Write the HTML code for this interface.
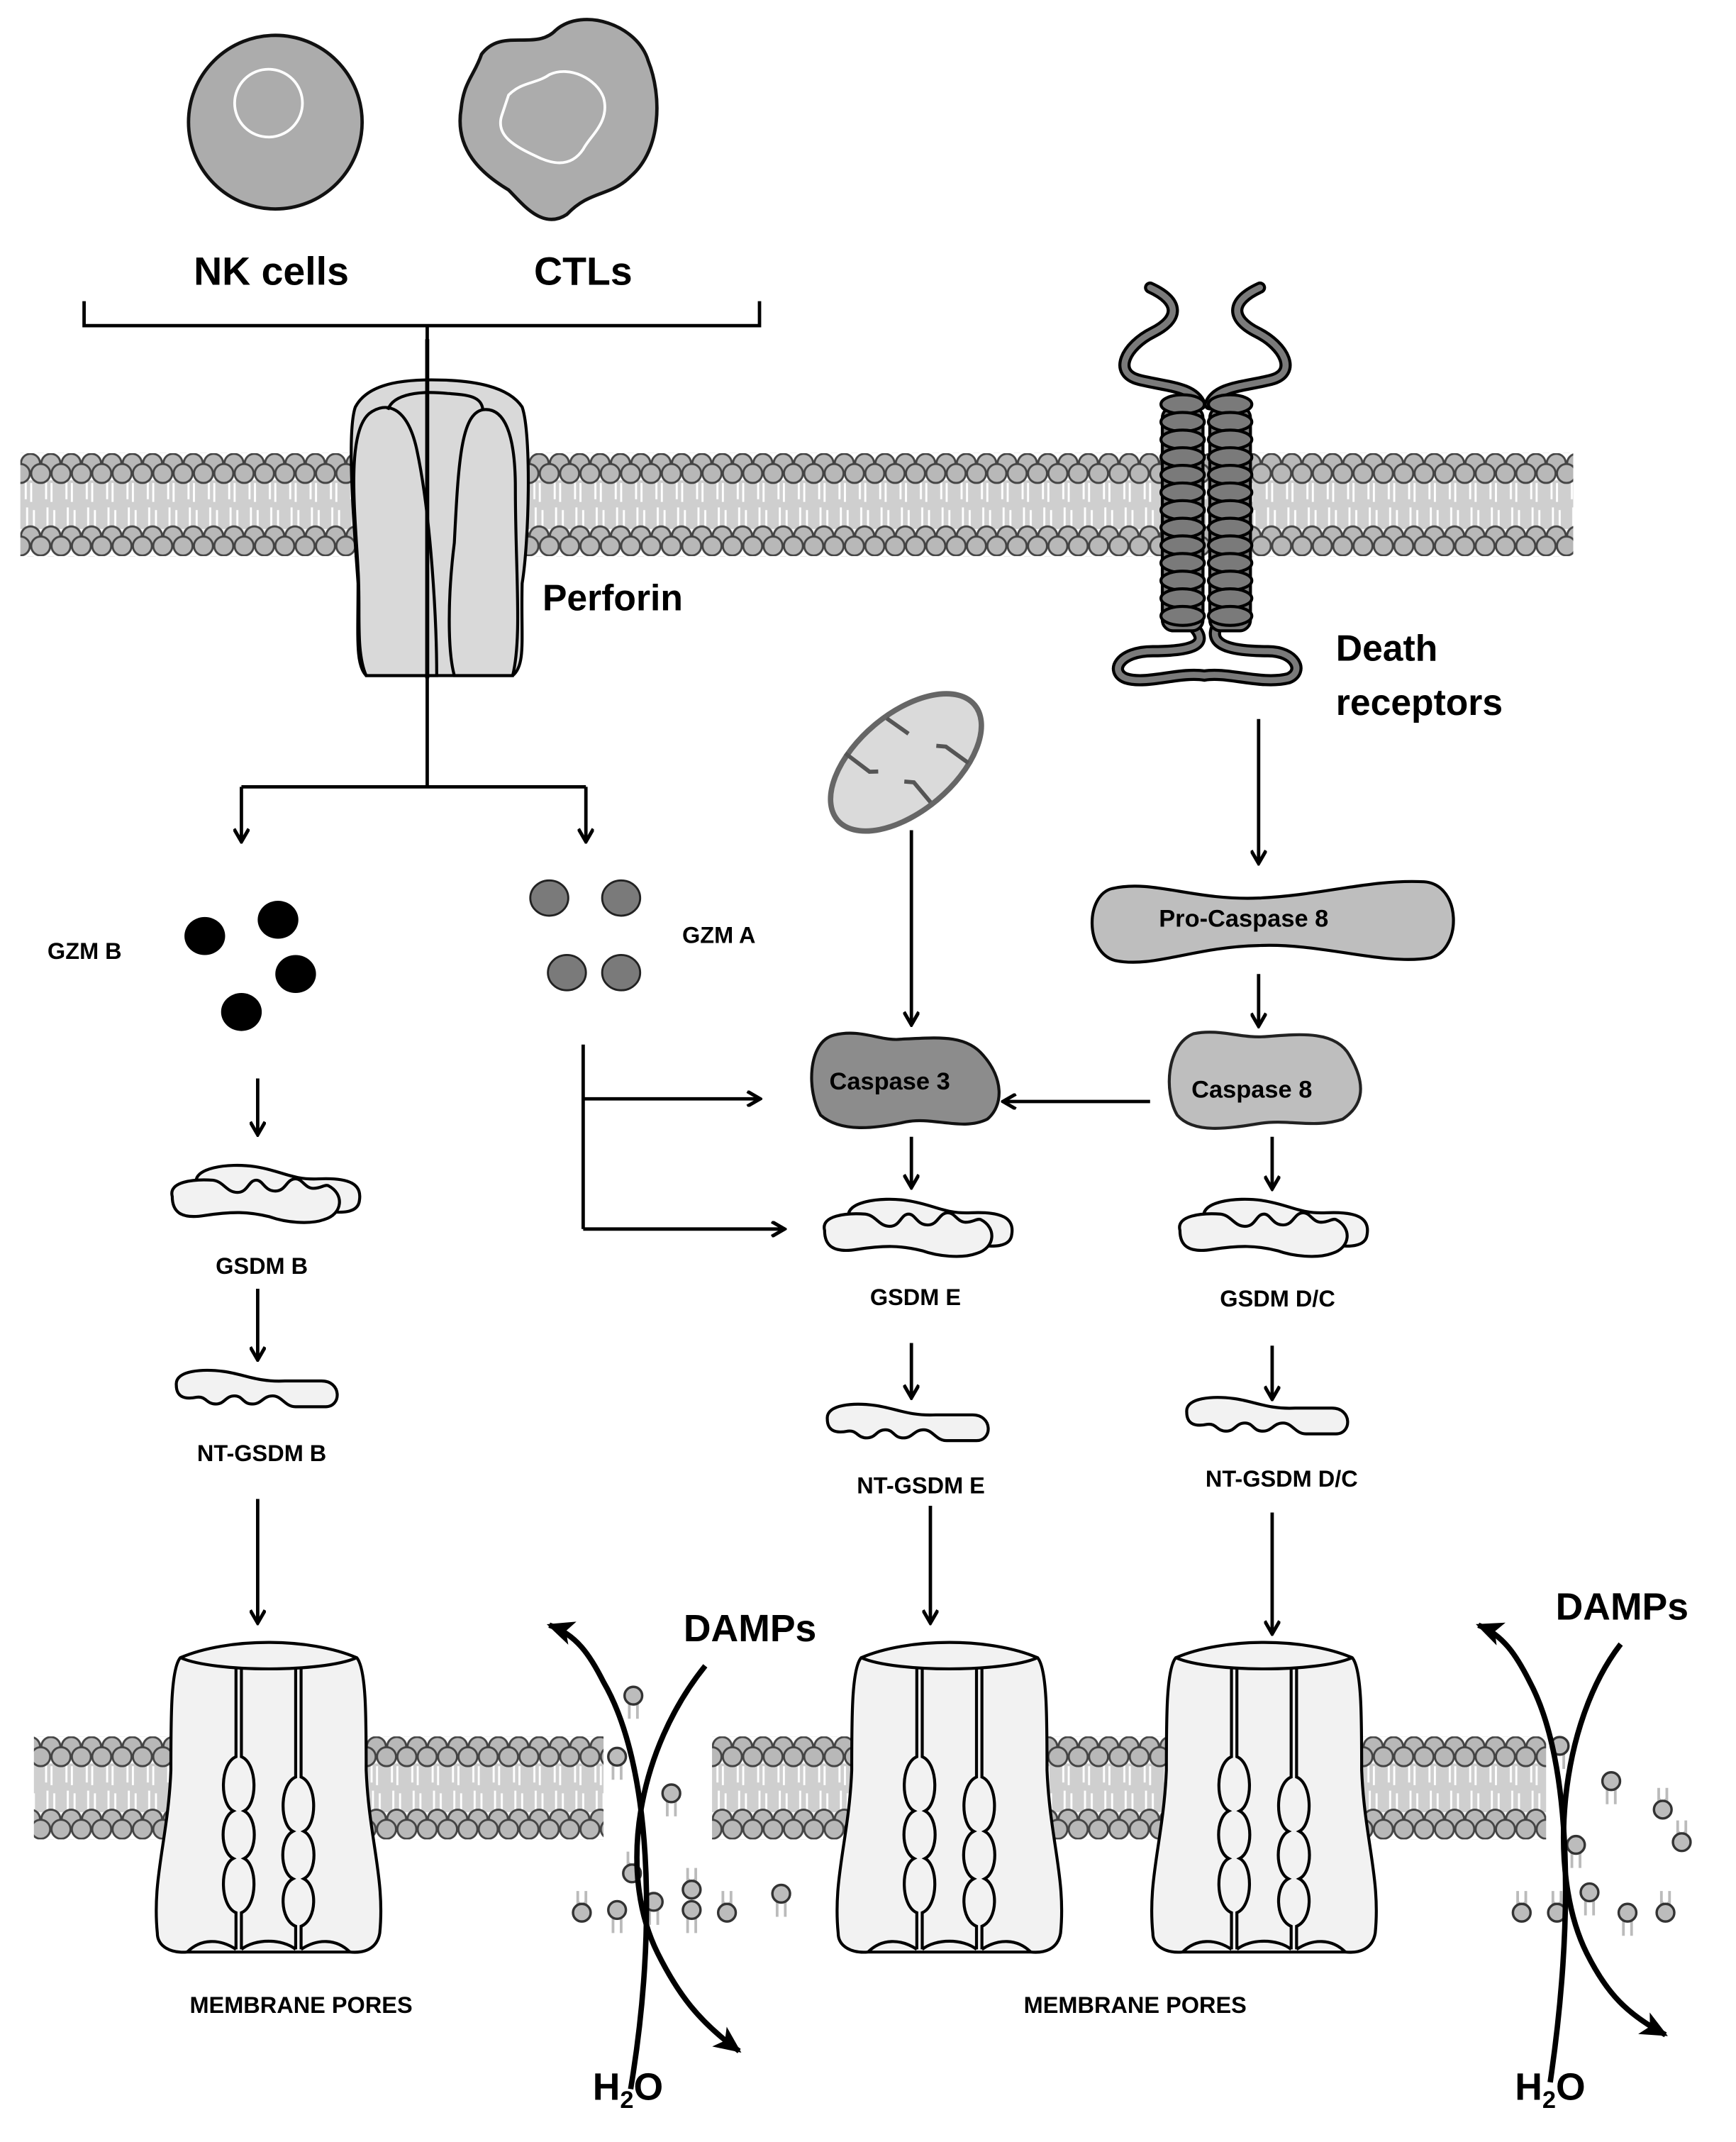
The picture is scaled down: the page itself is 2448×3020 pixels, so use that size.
<!DOCTYPE html>
<html><head><meta charset="utf-8"><style>
html,body{margin:0;padding:0;background:#fff}
svg{display:block}
text{font-family:"Liberation Sans",sans-serif;font-weight:bold;fill:#000}
</style></head><body>
<svg width="2448" height="3020" viewBox="0 0 1280 1579" xmlns="http://www.w3.org/2000/svg">
<defs>
<marker id="ah" markerWidth="12" markerHeight="12" refX="10" refY="6" orient="auto" markerUnits="userSpaceOnUse" viewBox="0 0 12 12">
<polyline points="1,0.5 10.5,6 1,11.5" fill="none" stroke="#000" stroke-width="2.6"/>
</marker>
<marker id="ahs" markerWidth="22" markerHeight="18" refX="18" refY="9" orient="auto" markerUnits="userSpaceOnUse">
<polygon points="0,0 20,9 0,18 5,9" fill="#000"/>
</marker>
<pattern id="mem" x="0" y="334" width="15" height="76" patternUnits="userSpaceOnUse">
<rect x="0" y="20" width="15" height="36" fill="#cfcfcf"/>
<path d="M4,20 V34 M8,22 V36 M5,40 V54 M10,42 V56" stroke="#fff" stroke-width="1.5"/>
<circle cx="7.5" cy="7.5" r="7" fill="#b8b8b8" stroke="#444" stroke-width="1.5"/>
<circle cx="0" cy="15" r="7" fill="#b8b8b8" stroke="#444" stroke-width="1.5"/>
<circle cx="15" cy="15" r="7" fill="#b8b8b8" stroke="#444" stroke-width="1.5"/>
<circle cx="7.5" cy="61" r="7" fill="#b8b8b8" stroke="#444" stroke-width="1.5"/>
<circle cx="0" cy="68.5" r="7" fill="#b8b8b8" stroke="#444" stroke-width="1.5"/>
<circle cx="15" cy="68.5" r="7" fill="#b8b8b8" stroke="#444" stroke-width="1.5"/>
</pattern>
<pattern id="mem2" x="0" y="1280" width="15" height="76" patternUnits="userSpaceOnUse">
<rect x="0" y="20" width="15" height="36" fill="#cfcfcf"/>
<path d="M4,20 V34 M8,22 V36 M5,40 V54 M10,42 V56" stroke="#fff" stroke-width="1.5"/>
<circle cx="7.5" cy="7.5" r="7" fill="#b8b8b8" stroke="#444" stroke-width="1.5"/>
<circle cx="0" cy="15" r="7" fill="#b8b8b8" stroke="#444" stroke-width="1.5"/>
<circle cx="15" cy="15" r="7" fill="#b8b8b8" stroke="#444" stroke-width="1.5"/>
<circle cx="7.5" cy="61" r="7" fill="#b8b8b8" stroke="#444" stroke-width="1.5"/>
<circle cx="0" cy="68.5" r="7" fill="#b8b8b8" stroke="#444" stroke-width="1.5"/>
<circle cx="15" cy="68.5" r="7" fill="#b8b8b8" stroke="#444" stroke-width="1.5"/>
</pattern>
<g id="gsdm" fill="#f2f2f2" stroke="#000" stroke-width="2.2">
<path d="M-48,-8 C-52,-20 -25,-24 -5,-21 C15,-18 22,-11 42,-12 C65,-13 74,-8 72,4 C71,14 57,13 48,12 Z"/>
<path d="M-66,1 C-69,-10 -50,-12 -36,-11 C-28,-10 -26,-2 -18,-2 C-10,-2 -10,-11 -4,-11 C1,-11 2,-3 10,-3 C18,-3 18,-12 25,-12 C30,-12 32,-5 38,-5 C44,-5 46,-8 49,-7 C61,-1 60,14 46,18 C35,22 17,20 6,16 C-10,12 -22,12 -42,15 C-60,18 -66,12 -66,1 Z"/>
</g>
<path id="ntg" fill="#f2f2f2" stroke="#000" stroke-width="2.2" d="M-60,-4 C-61,-15 -40,-16 -25,-14 C-10,-12 0,-6 20,-7 L47,-7 C62,-7 62,12 50,12 L28,12 C20,12 18,4 11,4 C4,4 3,10 -4,10 C-11,10 -11,4 -17,4 C-24,4 -24,10 -31,10 C-38,10 -38,4 -45,5 C-55,7 -60,4 -60,-4 Z"/>
<g id="pore" stroke="#000" stroke-width="2.2" fill="#f2f2f2">
<path d="M-65,-103 C-30,-118 30,-118 65,-103 C72,-95 72,-60 72,-20 C74,30 86,60 82,100 C80,112 70,115 60,114 L-60,114 C-72,115 -82,110 -82,100 C-86,60 -74,30 -72,-20 C-72,-60 -72,-95 -65,-103 Z"/>
<path d="M-65,-103 C-40,-92 40,-92 65,-103" fill="none"/>
<g fill="none">
<path d="M-24,-96 V-30 C-36,-25 -36,5 -26,10 C-36,15 -36,40 -26,45 C-36,50 -36,80 -24,85 V112"/>
<path d="M-20,-96 V-30 C-8,-25 -8,5 -18,10 C-8,15 -8,40 -18,45 C-8,50 -8,80 -20,85 V112"/>
<path d="M20,-96 V-15 C8,-10 8,20 18,25 C8,30 8,55 18,60 C8,65 8,90 20,95 V112"/>
<path d="M24,-96 V-15 C36,-10 36,20 26,25 C36,30 36,55 26,60 C36,65 36,90 24,95 V112"/>
<path d="M-60,114 C-50,104 -36,104 -24,112 M-20,112 C-10,104 10,104 20,112 M24,112 C36,104 50,104 60,114"/>
</g>
</g>
<g id="ld"><path d="M-3,6 V17 M3,6 V17 M-3,6 H3" stroke="#bbb" stroke-width="2" fill="none"/><circle r="6.5" fill="#bcbcbc" stroke="#333" stroke-width="1.8"/></g>
<g id="lu"><path d="M-3,-6 V-16 M3,-6 V-16 M-3,-8 L0,-5 L3,-8" stroke="#bbb" stroke-width="2" fill="none"/><circle r="6.5" fill="#bcbcbc" stroke="#333" stroke-width="1.8"/></g>
</defs>

<!-- cells -->
<circle cx="203" cy="90" r="64" fill="#acacac" stroke="#111" stroke-width="2.5"/>
<circle cx="198" cy="76" r="25" fill="none" stroke="#fff" stroke-width="2"/>
<path d="M355,40 C370,20 395,38 410,22 C430,5 470,18 478,45 C488,70 488,110 465,130 C450,145 435,140 418,158 C400,170 385,150 375,140 C355,128 335,110 340,80 C342,60 350,55 355,40 Z" fill="#acacac" stroke="#111" stroke-width="2.5"/>
<path d="M375,70 C385,60 395,62 405,55 C420,48 440,58 445,72 C450,90 435,100 430,110 C420,125 405,120 395,115 C380,108 365,100 370,85 Z" fill="none" stroke="#fff" stroke-width="2"/>
<text x="200" y="210" font-size="29" text-anchor="middle">NK cells</text>
<text x="430" y="210" font-size="29" text-anchor="middle">CTLs</text>
<path d="M62,222 V240 H560 V222 M315,240 V580 M178,580 H432" stroke="#000" stroke-width="2.5" fill="none"/>
<path d="M178,580 V620" stroke="#000" stroke-width="2.5" marker-end="url(#ah)"/>
<path d="M432,580 V620" stroke="#000" stroke-width="2.5" marker-end="url(#ah)"/>

<!-- top membrane -->
<rect x="15" y="334" width="1145" height="76" fill="url(#mem)"/>
<!-- perforin -->
<g stroke="#000" stroke-width="2.2" fill="#d9d9d9">
<path d="M262,300 C270,285 290,280 318,280 C350,280 375,285 385,300 C392,320 390,400 385,430 C384,470 388,490 378,498 L270,498 C262,490 264,470 264,430 C262,400 255,320 262,300 Z"/>
<path d="M272,305 C285,295 300,300 307,330 C318,380 322,460 322,498 L270,498 C262,480 266,450 264,420 C262,380 255,320 272,305 Z"/>
<path d="M286,302 C290,290 310,288 330,290 C345,291 355,292 356,302" fill="none"/>
<path d="M356,302 C372,300 380,320 380,360 C380,420 385,470 378,498 L335,498 C330,480 330,440 335,400 C338,340 340,305 356,302 Z"/>
</g>
<line x1="315" y1="250" x2="315" y2="500" stroke="#000" stroke-width="3"/>
<text x="400" y="450" font-size="27">Perforin</text>

<!-- death receptors -->
<g fill="none" stroke-linecap="round">
<path d="M885,298 C880,285 860,285 840,280 C820,275 830,255 850,245 C870,235 870,222 848,212" stroke="#000" stroke-width="9"/>
<path d="M885,298 C880,285 860,285 840,280 C820,275 830,255 850,245 C870,235 870,222 848,212" stroke="#7a7a7a" stroke-width="4.5"/>
<path d="M892,298 C897,285 917,285 937,280 C957,275 947,255 927,245 C907,235 907,222 929,212" stroke="#000" stroke-width="9"/>
<path d="M892,298 C897,285 917,285 937,280 C957,275 947,255 927,245 C907,235 907,222 929,212" stroke="#7a7a7a" stroke-width="4.5"/>
<path d="M880,462 C895,478 870,480 850,480 C825,480 818,495 830,500 C845,505 870,495 888,498 C905,495 930,505 950,500 C962,495 955,480 935,480 C915,480 890,478 897,462" stroke="#000" stroke-width="9"/>
<path d="M880,462 C895,478 870,480 850,480 C825,480 818,495 830,500 C845,505 870,495 888,498 C905,495 930,505 950,500 C962,495 955,480 935,480 C915,480 890,478 897,462" stroke="#7a7a7a" stroke-width="4.5"/>
</g>
<g fill="#7a7a7a" stroke="#000" stroke-width="2.2">
<rect x="857" y="300" width="30" height="165" rx="8"/>
<rect x="892" y="300" width="30" height="165" rx="8"/>
<g id="coils">
<ellipse cx="872" cy="298" rx="16" ry="7"/><ellipse cx="872" cy="311" rx="16" ry="7"/><ellipse cx="872" cy="324" rx="16" ry="7"/><ellipse cx="872" cy="337" rx="16" ry="7"/><ellipse cx="872" cy="350" rx="16" ry="7"/><ellipse cx="872" cy="363" rx="16" ry="7"/><ellipse cx="872" cy="376" rx="16" ry="7"/><ellipse cx="872" cy="389" rx="16" ry="7"/><ellipse cx="872" cy="402" rx="16" ry="7"/><ellipse cx="872" cy="415" rx="16" ry="7"/><ellipse cx="872" cy="428" rx="16" ry="7"/><ellipse cx="872" cy="441" rx="16" ry="7"/><ellipse cx="872" cy="454" rx="16" ry="7"/>
</g>
<use href="#coils" x="35"/>
</g>
<text x="985" y="487" font-size="27">Death</text>
<text x="985" y="527" font-size="27">receptors</text>

<!-- GZM -->
<text x="35" y="707" font-size="17">GZM B</text>
<g fill="#000"><ellipse cx="151" cy="690" rx="15" ry="14"/><ellipse cx="205" cy="678" rx="15" ry="14"/><ellipse cx="218" cy="718" rx="15" ry="14"/><ellipse cx="178" cy="746" rx="15" ry="14"/></g>
<g fill="#7a7a7a" stroke="#222" stroke-width="1.5"><ellipse cx="405" cy="662" rx="14" ry="13"/><ellipse cx="458" cy="662" rx="14" ry="13"/><ellipse cx="418" cy="717" rx="14" ry="13"/><ellipse cx="458" cy="717" rx="14" ry="13"/></g>
<text x="503" y="695" font-size="17">GZM A</text>

<!-- mitochondrion -->
<g transform="translate(668,562) rotate(-40)">
<ellipse rx="66" ry="36" fill="#dadada" stroke="#666" stroke-width="4"/>
<path d="M-30,-34 L-25,-12 L-20,-8 M10,-34 L15,-15 M-5,34 L-5,15 L-10,10 M35,30 L30,10 L25,5" stroke="#555" stroke-width="3" fill="none"/>
</g>

<!-- pathway arrows -->
<g stroke="#000" stroke-width="2.5" fill="none" marker-end="url(#ah)">
<path d="M672,612 V755"/>
<path d="M928,530 V636"/>
<path d="M928,718 V756"/>
<path d="M848,812 H740"/>
<path d="M430,810 H560"/>
<path d="M430,906 H578"/>
<path d="M190,795 V836"/>
<path d="M672,838 V875"/>
<path d="M938,838 V876"/>
<path d="M190,950 V1002"/>
<path d="M672,990 V1030"/>
<path d="M938,992 V1031"/>
<path d="M190,1105 V1196"/>
<path d="M686,1110 V1196"/>
<path d="M938,1115 V1204"/>
</g>
<path d="M430,770 V906" stroke="#000" stroke-width="2.5"/>

<!-- caspases -->
<path d="M820,655 C850,648 880,664 928,662 C975,660 1010,648 1050,650 C1078,652 1078,700 1055,706 C1020,712 975,695 928,697 C880,698 850,714 822,708 C800,702 800,660 820,655 Z" fill="#bebebe" stroke="#000" stroke-width="2.2"/>
<text x="917" y="683" font-size="18" text-anchor="middle">Pro-Caspase 8</text>
<path d="M880,762 C900,758 915,766 935,764 C960,762 985,760 995,778 C1008,800 1005,815 990,825 C970,832 950,825 930,828 C905,832 880,836 868,822 C858,805 860,770 880,762 Z" fill="#bebebe" stroke="#222" stroke-width="2.2"/>
<text x="923" y="809" font-size="18" text-anchor="middle">Caspase 8</text>
<path d="M615,763 C635,758 650,768 665,766 C690,765 712,762 725,778 C740,795 740,815 728,825 C710,834 688,823 668,827 C645,832 620,835 605,822 C595,805 595,768 615,763 Z" fill="#8c8c8c" stroke="#111" stroke-width="2.2"/>
<text x="656" y="803" font-size="18" text-anchor="middle">Caspase 3</text>

<!-- GSDM -->
<use href="#gsdm" x="193" y="881"/>
<use href="#gsdm" x="674" y="906"/>
<use href="#gsdm" x="936" y="906"/>
<text x="193" y="939" font-size="17" text-anchor="middle">GSDM B</text>
<text x="675" y="962" font-size="17" text-anchor="middle">GSDM E</text>
<text x="942" y="963" font-size="17" text-anchor="middle">GSDM D/C</text>
<use href="#ntg" x="190" y="1025"/>
<use href="#ntg" x="670" y="1050"/>
<use href="#ntg" x="935" y="1045"/>
<text x="193" y="1077" font-size="17" text-anchor="middle">NT-GSDM B</text>
<text x="679" y="1101" font-size="17" text-anchor="middle">NT-GSDM E</text>
<text x="945" y="1096" font-size="17" text-anchor="middle">NT-GSDM D/C</text>

<!-- bottom membranes -->
<rect x="25" y="1280" width="420" height="76" fill="url(#mem2)"/>
<rect x="525" y="1280" width="615" height="76" fill="url(#mem2)"/>
<use href="#pore" x="198" y="1325"/>
<use href="#pore" x="700" y="1325"/>
<use href="#pore" x="932" y="1325"/>
<text x="222" y="1484" font-size="17" text-anchor="middle">MEMBRANE PORES</text>
<text x="837" y="1484" font-size="17" text-anchor="middle">MEMBRANE PORES</text>

<!-- scattered lipids -->
<use href="#ld" x="467" y="1250"/><use href="#ld" x="455" y="1295"/><use href="#ld" x="495" y="1322"/>
<use href="#lu" x="466" y="1381"/><use href="#ld" x="482" y="1402"/><use href="#lu" x="510" y="1393"/>
<use href="#lu" x="429" y="1410"/><use href="#ld" x="455" y="1408"/><use href="#ld" x="510" y="1408"/>
<use href="#lu" x="536" y="1410"/><use href="#ld" x="576" y="1396"/>
<use href="#ld" x="1150" y="1287"/><use href="#ld" x="1188" y="1313"/><use href="#lu" x="1226" y="1334"/>
<use href="#lu" x="1240" y="1358"/><use href="#ld" x="1162" y="1360"/><use href="#ld" x="1172" y="1395"/>
<use href="#lu" x="1122" y="1410"/><use href="#lu" x="1148" y="1410"/><use href="#ld" x="1200" y="1410"/>
<use href="#lu" x="1228" y="1410"/>

<!-- DAMPs / H2O -->
<g stroke="#000" stroke-width="4" fill="none" marker-end="url(#ahs)">
<path d="M520,1228 C470,1290 455,1380 485,1440 C500,1470 515,1490 545,1512"/>
<path d="M465,1540 C485,1420 480,1300 445,1240 C435,1220 425,1205 405,1198"/>
<path d="M1195,1212 C1150,1270 1140,1380 1170,1440 C1185,1470 1200,1485 1228,1500"/>
<path d="M1143,1535 C1160,1420 1160,1300 1128,1240 C1118,1220 1108,1205 1090,1198"/>
</g>
<text x="553" y="1210" font-size="28" text-anchor="middle">DAMPs</text>
<text x="1196" y="1194" font-size="28" text-anchor="middle">DAMPs</text>
<text x="437" y="1548" font-size="28">H<tspan font-size="18" dy="6">2</tspan><tspan dy="-6">O</tspan></text>
<text x="1117" y="1548" font-size="28">H<tspan font-size="18" dy="6">2</tspan><tspan dy="-6">O</tspan></text>
</svg>
</body></html>
